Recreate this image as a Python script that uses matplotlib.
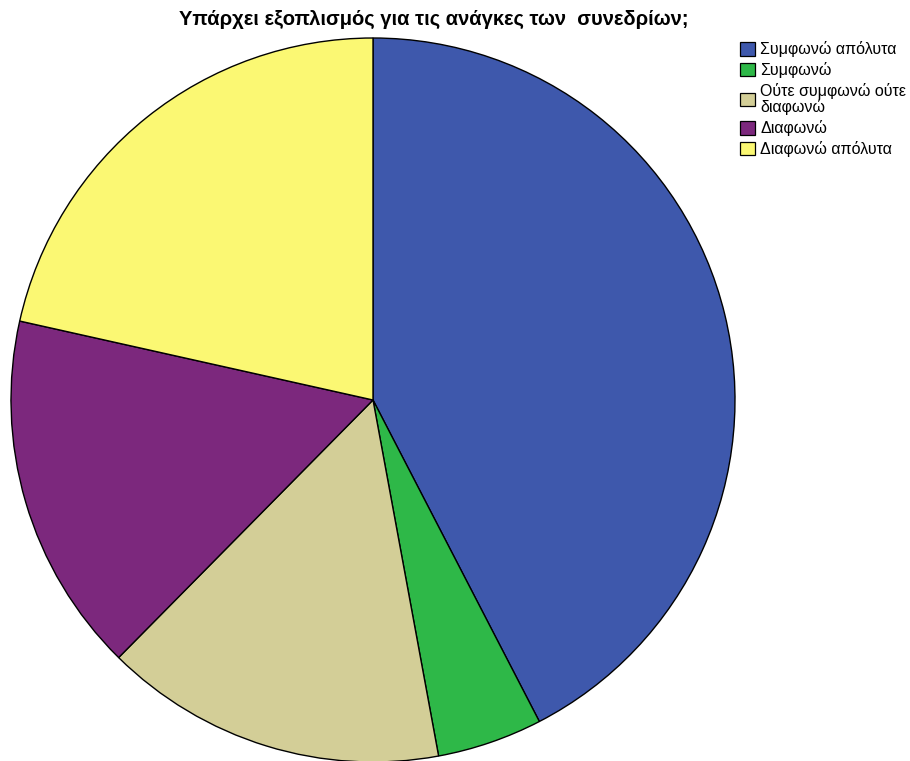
import matplotlib.pyplot as plt
from matplotlib.patches import Patch

plt.rcParams['font.family'] = ['Liberation Sans', 'DejaVu Sans']

# Response shares (%)
labels = ['Συμφωνώ απόλυτα', 'Συμφωνώ', 'Ούτε συμφωνώ ούτε\nδιαφωνώ',
          'Διαφωνώ', 'Διαφωνώ απόλυτα']
shares = [42.4, 4.7, 15.3, 16.1, 21.5]
colors = ['#3e58ac', '#2eb848', '#d3ce97', '#7c287d', '#fbf873']

fig = plt.figure(figsize=(9.1, 7.61), dpi=100)

# square axes for the pie, in pixel terms 724x724
ax = fig.add_axes([11 / 910, -1 / 761, 724 / 910, 724 / 761])
ax.pie(shares, colors=colors, startangle=90, counterclock=False,
       radius=1, wedgeprops=dict(edgecolor='black', linewidth=1.0))
ax.set_xlim(-1, 1)
ax.set_ylim(-1, 1)
ax.set_aspect('auto')
ax.axis('off')

fig.text(434 / 910, 1 - 19 / 761, 'Υπάρχει εξοπλισμός για τις ανάγκες των  συνεδρίων;',
         ha='center', va='center', fontsize=14.5, fontweight='bold')

handles = [Patch(facecolor=c, edgecolor='black', linewidth=0.9) for c in colors]
leg = fig.legend(handles, labels, loc='upper left', bbox_to_anchor=(729 / 910, 1 - 30 / 761),
                 frameon=False, fontsize=11.5, handlelength=0.95, handleheight=0.95,
                 handletextpad=0.3, labelspacing=0.3, borderpad=0.2)
for t in leg.get_texts():
    t.set_linespacing(1.05)

plt.savefig('out.png', dpi=100)
